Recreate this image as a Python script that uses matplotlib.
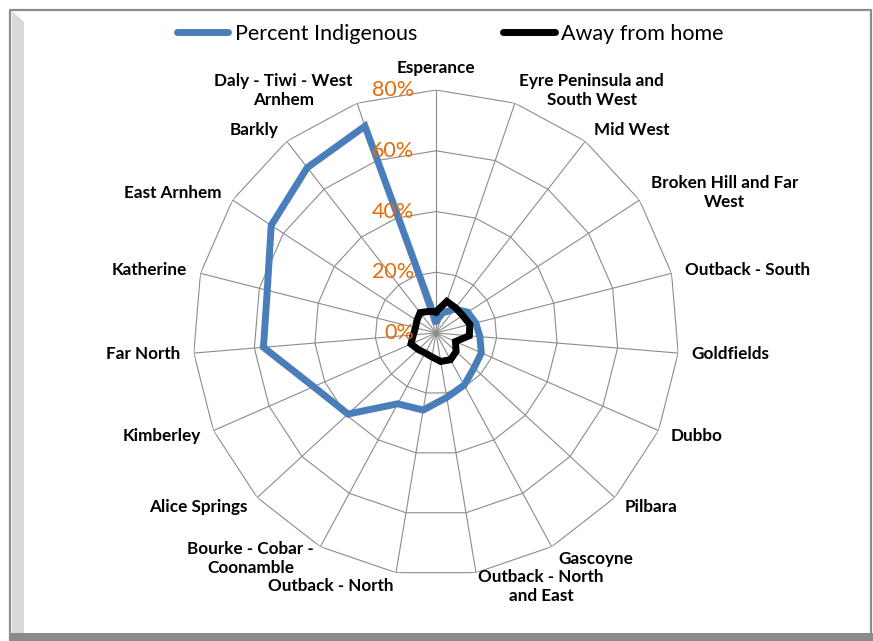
import numpy as np
import matplotlib
matplotlib.use('Agg')
import matplotlib.pyplot as plt
from matplotlib.lines import Line2D
from matplotlib.patches import Polygon

# regions, clockwise from the top
regions = ['Esperance', 'Eyre Peninsula and\nSouth West', 'Mid West',
           'Broken Hill and Far\nWest', 'Outback - South', 'Goldfields',
           'Dubbo', 'Pilbara', 'Gascoyne', 'Outback - North\nand East',
           'Outback - North', 'Bourke - Cobar -\nCoonamble', 'Alice Springs',
           'Kimberley', 'Far North', 'Katherine', 'East Arnhem', 'Barkly',
           'Daly - Tiwi - West\nArnhem']
pct_indigenous = [4, 7, 10, 12.5, 13.5, 14.5, 16.3, 17, 19.5, 21.5, 25.7,
                  26.5, 39.4, 44, 57, 57.3, 64.8, 69, 72]
away_from_home = [7, 11, 10.5, 10.5, 11.5, 11, 7, 9, 10, 9.5, 8, 7.5, 8, 9,
                  7.5, 7, 7.5, 8.5, 7.5]
ring_ticks = [0, 20, 40, 60, 80]

W, H = 873, 641
blue = '#4A7EBB'
orange = '#E46C0A'
grid_col = '#8C8C8C'

fig = plt.figure(figsize=(W / 100, H / 100), dpi=100)
fig.patch.set_facecolor('white')


def fpx(x, y):
    return (x / W, 1 - y / H)


# chart frame with bevel, as in the Excel export
fig.add_artist(Polygon([fpx(12, 11), fpx(24, 22), fpx(24, 633), fpx(12, 633)],
                       closed=True, facecolor='#D9D9D9', edgecolor='none',
                       transform=fig.transFigure))
fig.add_artist(Polygon([fpx(10, 633), fpx(873, 633), fpx(873, 641), fpx(10, 641)],
                       closed=True, facecolor='#8A8A8A', edgecolor='none',
                       transform=fig.transFigure))
fig.add_artist(Line2D([10 / W, 10 / W, 871 / W, 871 / W],
                      [1 - 641 / H, 1 - 10 / H, 1 - 10 / H, 1 - 633 / H],
                      color='#8C8C8C', lw=1.6, transform=fig.transFigure))

# polar axes: centre (436, 333) px, 80% ring radius 243 px
cx, cy, rad = 436, 333, 243
ax = fig.add_axes([(cx - rad) / W, (H - cy - rad) / H, 2 * rad / W, 2 * rad / H],
                  projection='polar')
ax.set_theta_zero_location('N')
ax.set_theta_direction(-1)
ax.set_ylim(0, 80)
ax.axis('off')

n = len(regions)
theta = np.arange(n) * 2 * np.pi / n
closed = np.append(theta, theta[0])

for r in ring_ticks[1:]:
    ax.plot(closed, [r] * (n + 1), color=grid_col, lw=0.8, zorder=1)
for t in theta:
    ax.plot([t, t], [0, 80], color=grid_col, lw=0.8, zorder=1)

ax.plot(closed, np.append(pct_indigenous, pct_indigenous[0]), color=blue,
        lw=5, solid_joinstyle='miter', zorder=3)
ax.plot(closed, np.append(away_from_home, away_from_home[0]), color='black',
        lw=5, solid_joinstyle='miter', zorder=4)

lab_font = dict(family='Lato', fontweight='bold', fontsize=12.3, color='black')
for t, name in zip(theta, regions):
    s, c = np.sin(t), np.cos(t)
    ha = 'center' if abs(s) < 0.05 else ('left' if s > 0 else 'right')
    va = 'bottom' if c > 0.95 else 'center'
    ax.text(t, 84.5, name, ha=ha, va=va, multialignment='center',
            linespacing=1.25, **lab_font)

for r in ring_ticks:
    ax.annotate(f'{r}%', xy=(0, r), xytext=(-22, 0), textcoords='offset pixels',
                ha='right', va='center', color=orange, fontsize=15.5,
                family='Lato', zorder=5)

handles = [Line2D([], [], color=blue, lw=5, solid_capstyle='round'),
           Line2D([], [], color='black', lw=5, solid_capstyle='round')]
fig.legend(handles, ['Percent Indigenous', 'Away from home'], ncol=2,
           loc='center', bbox_to_anchor=(450 / W, 1 - 34 / H), frameon=False,
           prop=dict(family='Lato', size=15.5), handlelength=2.4,
           handletextpad=0.28, columnspacing=4.0)

fig.savefig('out.png', dpi=100)
